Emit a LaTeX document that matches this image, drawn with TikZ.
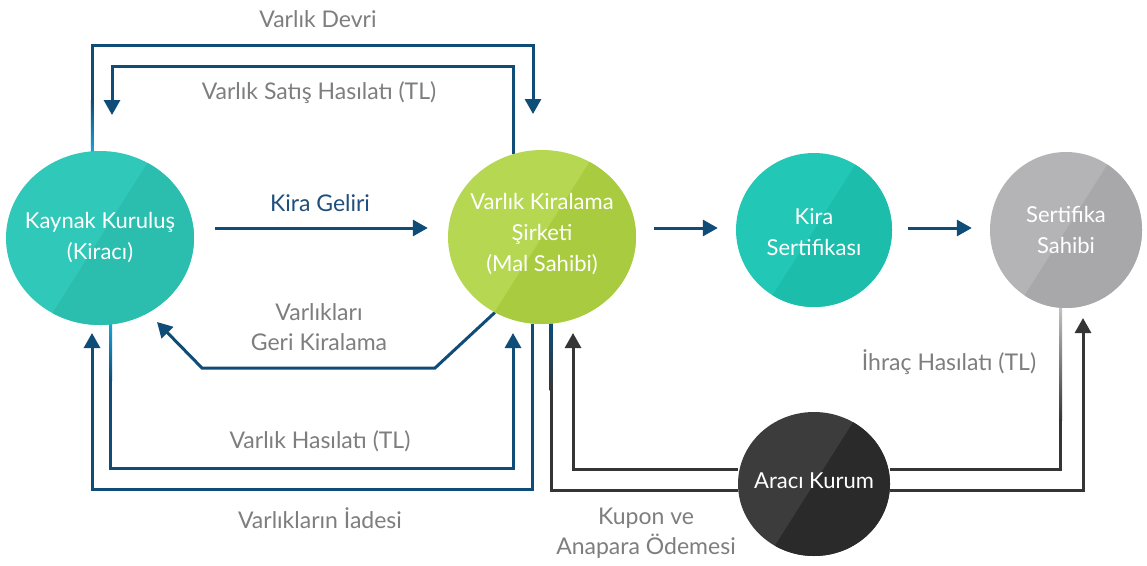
\documentclass[tikz,border=0pt]{standalone}
\usepackage{fontspec}
\setmainfont{Lato}
\usetikzlibrary{arrows.meta,shapes.geometric,calc,backgrounds}

\definecolor{flowblue}{HTML}{0F4C78}
\definecolor{flowglow}{HTML}{1AA3D6}
\definecolor{flowgray}{HTML}{353535}
\definecolor{fadegray}{HTML}{C2C2C2}
\definecolor{labelgray}{HTML}{7E7E7E}
\definecolor{labelblue}{HTML}{1F4F7A}
\definecolor{tealL}{HTML}{30C8B8}
\definecolor{tealD}{HTML}{2BBEAE}
\definecolor{aquaL}{HTML}{22C7B5}
\definecolor{aquaD}{HTML}{1DBDAB}
\definecolor{limeL}{HTML}{B6D752}
\definecolor{limeD}{HTML}{A8CB40}
\definecolor{greyL}{HTML}{B4B4B6}
\definecolor{greyD}{HTML}{A8A8AA}
\definecolor{coalL}{HTML}{3C3C3C}
\definecolor{coalD}{HTML}{2A2A2A}

\tikzset{
  disc/.style args={#1/#2/#3/#4}{
    ellipse, minimum width=#3, minimum height=#4, inner sep=0pt,
    fill=#1,
    path picture={
      \fill[#2] ($(path picture bounding box.center)+(95pt,150pt)$)
        -- ($(path picture bounding box.center)+(-95pt,-150pt)$)
        -- ($(path picture bounding box.center)+(205pt,-150pt)$)
        -- ($(path picture bounding box.center)+(395pt,150pt)$) -- cycle;
    }},
  disctext/.style={text=white, align=center, inner sep=0pt,
    font=\fontsize{22}{31}\selectfont},
  lbl/.style={text=labelgray, align=center, inner sep=0pt,
    font=\fontsize{23}{30}\selectfont},
  flow/.style={draw=flowblue, line width=3pt},
  gflow/.style={draw=flowgray, line width=3pt},
  tip/.style={-{Triangle[width=16pt,length=15pt]}},
}

\begin{document}
\begin{tikzpicture}[x=1pt,y=-1pt]
\useasboundingbox (0,0) rectangle (1147,565);

% parties
\node[disc={tealL/tealD/188pt/174pt}] (kaynak) at (100,238) {};
\node[disc={limeL/limeD/188pt/174pt}] (green) at (542,237) {};
\node[disc={aquaL/aquaD/156pt/154pt}] (kira) at (814,230) {};
\node[disc={greyL/greyD/152pt/156pt}] (sert) at (1066,230) {};
\node[disc={coalL/coalD/152pt/144pt}] (araci) at (814,484) {};

\node[disctext] (kaynakT) at (kaynak.center) {Kaynak Kuruluş\\(Kiracı)};
\node[disctext] (greenT) at ([yshift=3pt]green.center) {Varlık Kiralama\\Şirketi\\(Mal Sahibi)};
\node[disctext] (kiraT) at ([yshift=-2pt]kira.center) {Kira\\Sertifikası};
\node[disctext] (sertT) at (sert.center) {Sertifika\\Sahibi};
\node[disctext] (araciT) at ([yshift=3pt]araci.center) {Aracı Kurum};

% flow labels
\node[lbl] (tDevri) at (318,19) {Varlık Devri};
\node[lbl] (tSatis) at (319,93) {Varlık Satış Hasılatı (TL)};
\node[lbl, text=labelblue] (tGelir) at (320,203) {Kira Geliri};
\node[lbl] (tGeri) at (319,327) {Varlıkları\\Geri Kiralama};
\node[lbl] (tHas) at (320,441) {Varlık Hasılatı (TL)};
\node[lbl] (tIade) at (320,518) {Varlıkların İadesi};
\node[lbl] (tIhrac) at (949,362) {İhraç Hasılatı (TL)};
\node[lbl] (tKupon) at (646,533) {Kupon ve\\Anapara Ödemesi};

% arrow ends and rails
\coordinate (devriEnd) at (533,114);
\coordinate (satisEnd) at (112,115);
\coordinate (geriEnd) at (157,322);
\coordinate (geriA) at (435,368);
\coordinate (geriB) at (202,368);
\coordinate (hasEnd) at (513,333);
\coordinate (iadeEnd) at (92,333);
\coordinate (kuponEnd) at (1083,318);
\coordinate (ihracEnd) at (573,333);
\coordinate (kg) at (0,228);
\coordinate (kp) at (0,490);
\coordinate (ih) at (0,469);

\begin{pgfonlayer}{background}
  \fill[white] (0,0) rectangle (1147,565);

  % asset transfer and sale proceeds
  \draw[flow,tip] (kaynak.95) |- (devriEnd |- 0,45) -- (devriEnd);
  \draw[flow,tip] (green.109) |- (satisEnd |- 0,66) -- (satisEnd);

  % rent, certificate issue
  \draw[flow,tip,shorten <=21pt,shorten >=20pt] (kaynak.east |- kg) -- (green.west |- kg);
  \draw[flow,tip,shorten <=18pt,shorten >=18pt] (green.east |- kg) -- (kira.west |- kg);
  \draw[flow,tip,shorten <=16pt,shorten >=18pt] (kira.east |- kg) -- (sert.west |- kg);

  % lease back
  \draw[flow,tip] (green.238) -- (geriA) -- (geriB) -- (geriEnd);

  % asset proceeds and return of assets
  \draw[flow,tip] (kaynak.-83) |- (hasEnd |- 0,468) -- (hasEnd);
  \draw[flow,tip] (green.-96) |- (iadeEnd |- 0,489) -- (iadeEnd);

  % payments through the intermediary
  \draw[gflow] (green.-84) |- (araci.west |- kp);
  \draw[gflow,tip] (araci.east |- kp) -| (kuponEnd);
  \draw[gflow] (sert.-94) |- (araci.east |- ih);
  \draw[gflow,tip] (araci.west |- ih) -| (ihracEnd);

  % colour fades where the lines leave the discs
  \shade[top color=flowblue, bottom color=flowglow]
    ($(kaynak.95 |- 0,100)+(-1.5pt,0)$) rectangle ($(kaynak.95)+(1.5pt,0)$);
  \shade[top color=flowglow, bottom color=flowblue]
    ($(kaynak.-83)+(-1.5pt,0)$) rectangle ($(kaynak.-83 |- 0,380)+(1.5pt,0)$);
  \shade[top color=flowblue, bottom color=flowgray]
    ($(green.-84)+(-1.5pt,0)$) rectangle ($(green.-84 |- 0,390)+(1.5pt,0)$);
  \shade[top color=fadegray, bottom color=flowgray]
    ($(sert.-94)+(-1.5pt,0)$) rectangle ($(sert.-94 |- 0,420)+(1.5pt,0)$);
\end{pgfonlayer}
\end{tikzpicture}
\end{document}
